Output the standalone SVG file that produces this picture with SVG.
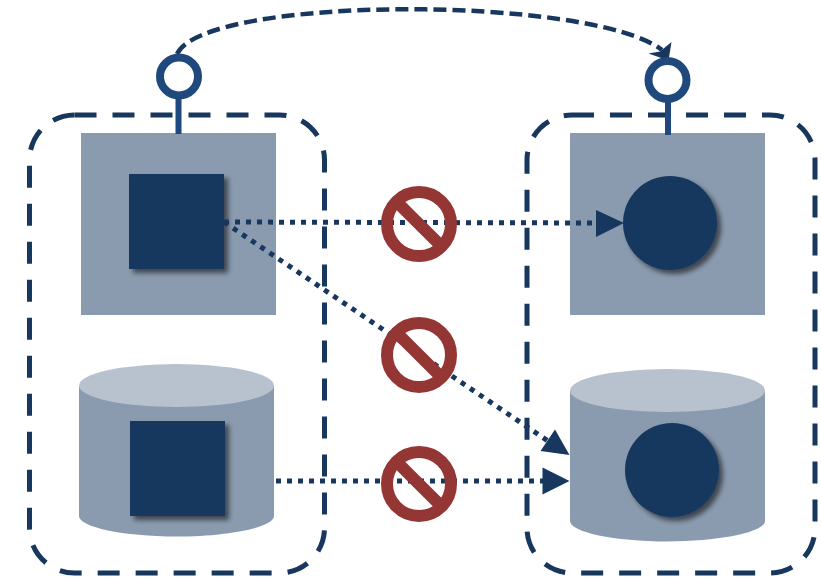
<svg xmlns="http://www.w3.org/2000/svg" width="821" height="577" viewBox="0 0 821 577">
<style>
.panel{fill:#8a9baf}
.top{fill:#b8c2cf}
.shape{fill:#17375e;filter:url(#sh)}
.zone{fill:none;stroke:#17375e;stroke-width:5;stroke-dasharray:22 16}
.ring{fill:#fff;stroke:#1f497d;stroke-width:8}
.stem{stroke:#1f497d;stroke-width:6;fill:none}
.dot{fill:none;stroke:#17375e;stroke-width:5;stroke-dasharray:5 6}
.dash{fill:none;stroke:#17375e;stroke-width:4.5;stroke-dasharray:13 6}
.head{fill:#17375e}
.no{fill:none;stroke:#943634;stroke-width:12}
</style>
<defs>
<filter id="sh" x="-20%" y="-20%" width="150%" height="150%">
<feGaussianBlur in="SourceAlpha" stdDeviation="2.5"/>
<feOffset dx="4" dy="4"/>
<feComponentTransfer><feFuncA type="linear" slope="0.55"/></feComponentTransfer>
<feMerge><feMergeNode/><feMergeNode in="SourceGraphic"/></feMerge>
</filter>
<g id="nosign"><circle r="32" class="no"/><path d="M-22.6,-22.6L22.6,22.6" class="no"/></g>
</defs>
<g id="zone-left"><rect x="29.5" y="115" width="295" height="458" rx="45" class="zone"/></g>
<g id="zone-right"><rect x="527" y="115" width="288" height="458" rx="45" class="zone"/></g>
<g id="panel-left"><rect x="81" y="133" width="195" height="182" class="panel"/><rect x="129" y="174" width="95" height="95" class="shape"/></g>
<g id="panel-right"><rect x="570" y="133" width="195" height="182" class="panel"/><circle cx="670" cy="223" r="47" class="shape"/></g>
<g id="db-left"><path d="M79,386V516C79,527 123,536.500 176.500,536.500S274,527 274,516V386Z" class="panel"/><ellipse cx="176.500" cy="385.500" rx="97.500" ry="21.500" class="top"/><rect x="130" y="421" width="95" height="95" class="shape"/></g>
<g id="db-right"><path d="M570,391V521C570,532 614,541.500 667.500,541.500S765,532 765,521V391Z" class="panel"/><ellipse cx="667.500" cy="390.500" rx="97.500" ry="21.500" class="top"/><circle cx="672" cy="470" r="47" class="shape"/></g>
<g id="connectors">
<path d="M224,222L597,223" class="dot"/>
<path d="M624,223L596,210V237Z" class="head"/>
<path d="M224,222L548,441" class="dot"/>
<path d="M569.500,455L555,429.500L540.500,451Z" class="head"/>
<path d="M276,481H543" class="dot"/>
<path d="M569.500,481L542.500,467.500V494.500Z" class="head"/>
<path d="M177,54C205,-5 590,-5 662,50" class="dash"/>
<path d="M671.500,42L660,51.500L648.500,53.500L668.500,60.500Z" class="head"/>
</g>
<g id="socket-left"><path d="M178.500,99V134" class="stem"/><circle cx="179" cy="76.500" r="19" class="ring"/></g>
<g id="socket-right"><path d="M668,102V135" class="stem"/><circle cx="667.500" cy="80" r="19" class="ring"/></g>
<use id="no-1" href="#nosign" x="419" y="224"/>
<use id="no-2" href="#nosign" x="419" y="355"/>
<use id="no-3" href="#nosign" x="419" y="484"/>
</svg>
